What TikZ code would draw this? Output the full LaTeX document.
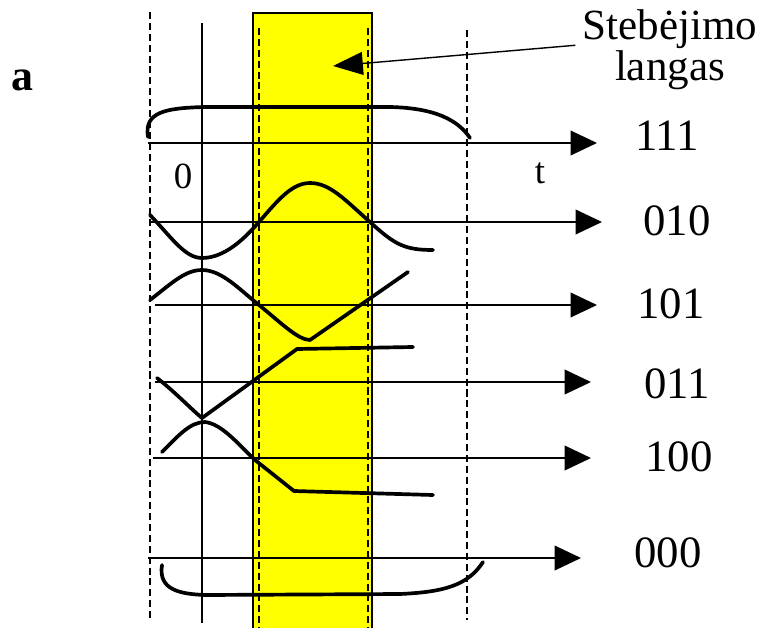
\documentclass[tikz,border=0pt]{standalone}
\usepackage{fontspec}
\setmainfont{Liberation Serif}
\usetikzlibrary{arrows.meta}
\definecolor{window}{HTML}{FFFF00}

\begin{document}
\begin{tikzpicture}[
    x=0.02cm,y=-0.02cm,
    axis/.style={-{Triangle[length=15pt,width=14pt]},line width=1pt},
    pointer/.style={-{Triangle[length=17pt,width=13pt]},line width=0.8pt},
    guide/.style={line width=0.7pt,dash pattern=on 4pt off 2.2pt},
    wave/.style={line width=2.1pt,line cap=round,line join=round},
    code/.style={font=\fontsize{25.5}{28}\selectfont,inner sep=0pt},
    note/.style={font=\fontsize{24.5}{27}\selectfont,inner sep=0pt},
    tick/.style={font=\fontsize{21}{23}\selectfont,inner sep=0pt}
  ]
    \useasboundingbox (0,0) rectangle (763,628);

    % observation window
    \fill[window] (253,13) rectangle (372,628);
    \draw[line width=0.6pt] (253,628) -- (253,13) -- (372,13) -- (372,628);

    % guide lines
    \draw[guide] (150,12) -- (150,620);
    \draw[guide] (259,28) -- (259,628);
    \draw[guide] (368,28) -- (368,628);
    \draw[guide] (467,30) -- (467,620);
    \draw[line width=1pt] (202,23) -- (202,623);

    % labels
    \node[font=\fontsize{25}{27}\selectfont\bfseries,inner sep=0pt] (fig) at (22,80) {a};
    \node[tick] (zero) at (183,176) {0};
    \node[tick] (time) at (540,173) {t};
    \node[note,anchor=base] (stebe) at (670,40) {Stebėjimo};
    \node[note,anchor=base] (langas) at (670,81) {langas};
    \coordinate (ptr) at (333,66);
    \draw[pointer] ([xshift=-4pt,yshift=-3pt]stebe.base west) -- (ptr);

    % time axes
    \coordinate (s111) at (148,143); \coordinate (e111) at (597,143);
    \coordinate (s010) at (150,222); \coordinate (e010) at (602,222);
    \coordinate (s101) at (155,305); \coordinate (e101) at (597,305);
    \coordinate (s011) at (155,382); \coordinate (e011) at (591,382);
    \coordinate (s100) at (153,458); \coordinate (e100) at (591,458);
    \coordinate (s000) at (148,558); \coordinate (e000) at (581,558);
    \draw[axis] (s111) -- (e111);
    \draw[axis] (s010) -- (e010);
    \draw[axis] (s101) -- (e101);
    \draw[axis] (s011) -- (e011);
    \draw[axis] (s100) -- (e100);
    \draw[axis] (s000) -- (e000);
    \node[code] (c111) at (667,136) {111};
    \node[code] (c010) at (677,221) {010};
    \node[code] (c101) at (671,304) {101};
    \node[code] (c011) at (677,384) {011};
    \node[code] (c100) at (679,457) {100};
    \node[code] (c000) at (668,553) {000};

    % signal shapes
    \draw[wave] (148,137) .. controls (144,112) and (165,108) .. (205,107)
      -- (390,107) .. controls (435,108) and (458,120) .. (470,138);
    \draw[wave] (150,215) .. controls (172,238) and (185,258) .. (202,258)
      .. controls (225,258) and (245,238) .. (259,222)
      .. controls (278,200) and (292,183) .. (310,183)
      .. controls (330,183) and (345,200) .. (370,222)
      .. controls (395,245) and (405,250) .. (433,250);
    \draw[wave] (150,300) .. controls (172,283) and (185,270) .. (202,270)
      .. controls (222,270) and (240,290) .. (259,305)
      .. controls (280,322) and (298,340) .. (310,340) -- (408,272);
    \draw[wave] (157,378) .. controls (175,392) and (190,408) .. (202,418)
      -- (297,349) -- (413,347);
    \draw[wave] (162,452) .. controls (178,436) and (190,422) .. (205,422)
      .. controls (222,424) and (238,444) .. (255,460) -- (294,491) -- (433,495);
    \draw[wave] (162,565) .. controls (158,590) and (180,594) .. (205,595)
      -- (400,594) .. controls (445,592) and (468,585) .. (483,562);
\end{tikzpicture}
\end{document}
